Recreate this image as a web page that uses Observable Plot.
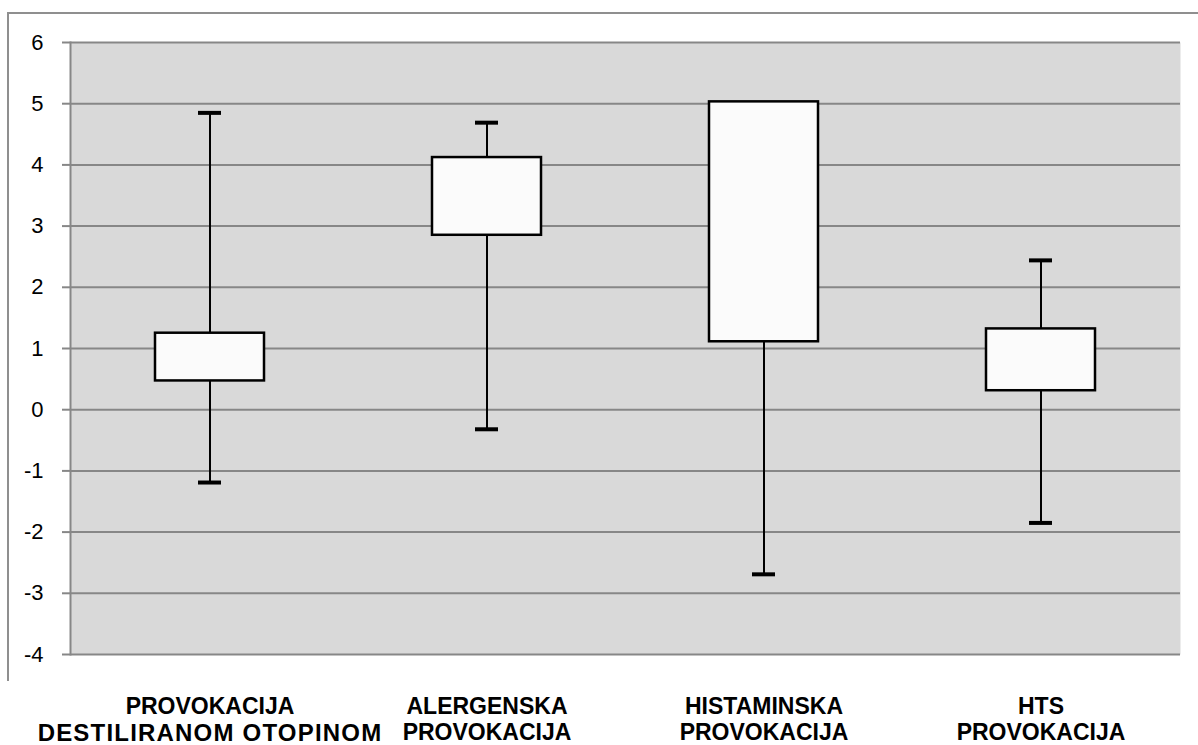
<!DOCTYPE html>
<html>
<head>
<meta charset="utf-8">
<script src="https://cdn.jsdelivr.net/npm/d3@7"></script>
<script src="https://cdn.jsdelivr.net/npm/@observablehq/plot@0.6"></script>
<style>
  html, body { margin: 0; padding: 0; background: #ffffff; }
  #wrap { position: relative; width: 1198px; height: 745px; overflow: hidden; }
  #wrap svg { position: absolute; left: 0; top: 0; }
  .border-top { position: absolute; left: 8px; top: 12px; width: 1190px; height: 2px; background: #8f8f8f; }
  .border-left { position: absolute; left: 7px; top: 12px; width: 2px; height: 669px; background: #8f8f8f; }
</style>
</head>
<body>
<div id="wrap">
  <div class="border-top"></div>
  <div class="border-left"></div>
</div>
<script>
const categories = [
  "PROVOKACIJA\nDESTILIRANOM OTOPINOM",
  "ALERGENSKA\nPROVOKACIJA",
  "HISTAMINSKA\nPROVOKACIJA",
  "HTS\nPROVOKACIJA"
];
const minValues = [-1.19, -0.32, -2.69, -1.85];
const q1Values  = [0.47, 2.85, 1.11, 0.31];
const q3Values  = [1.25, 4.12, 5.03, 1.32];
const maxValues = [4.85, 4.69, 5.03, 2.44];
const yTicks = [-4, -3, -2, -1, 0, 1, 2, 3, 4, 5, 6];

const data = categories.map((c, i) => ({
  cat: c, min: minValues[i], q1: q1Values[i], q3: q3Values[i], max: maxValues[i]
}));
const topCaps = data.filter(d => d.max > d.q3);
const bottomCaps = data.filter(d => d.min < d.q1);

const gridColor = "#878787";

const chart = Plot.plot({
  width: 1198,
  height: 745,
  marginTop: 42,
  marginBottom: 91,
  marginLeft: 70,
  marginRight: 18,
  style: { background: "transparent", overflow: "visible" },
  x: { domain: categories, padding: 0, axis: null },
  y: { domain: [-4, 6], axis: null },
  marks: [
    Plot.frame({ fill: "#d9d9d9", stroke: null }),
    Plot.gridY(yTicks, { stroke: gridColor, strokeOpacity: 1, strokeWidth: 2 }),
    Plot.frame({ anchor: "left", stroke: gridColor, strokeWidth: 2 }),
    Plot.axisY({
      ticks: yTicks,
      tickFormat: d => String(d),
      tickSize: 8,
      tickPadding: 19,
      stroke: gridColor,
      strokeWidth: 2,
      fill: "#000",
      fontSize: 22,
      fontFamily: "Liberation Sans, Arial, sans-serif",
      label: null
    }),
    Plot.ruleX(data, { x: "cat", y1: "min", y2: "max", stroke: "#000", strokeWidth: 2 }),
    Plot.tickY(topCaps, { x: "cat", y: "max", stroke: "#000", strokeWidth: 4, insetLeft: 127, insetRight: 127 }),
    Plot.tickY(bottomCaps, { x: "cat", y: "min", stroke: "#000", strokeWidth: 4, insetLeft: 127, insetRight: 127 }),
    Plot.barY(data, {
      x: "cat", y1: "q1", y2: "q3",
      fill: "#fbfbfb", stroke: "#000", strokeWidth: 2.5,
      insetLeft: 84, insetRight: 84
    }),
    Plot.text(categories, {
      x: d => d,
      frameAnchor: "bottom",
      lineAnchor: "top",
      dy: 41,
      lineHeight: 1.12,
      fontSize: 23,
      fontWeight: "bold",
      fontFamily: "Liberation Sans, Arial, sans-serif",
      fill: "#000",
      textAnchor: "middle"
    })
  ]
});

document.getElementById("wrap").appendChild(chart);

// the long second line of the first label is drawn slightly larger/wider in the reference
d3.select(chart).selectAll("tspan").each(function () {
  if (this.textContent === "DESTILIRANOM OTOPINOM") {
    this.setAttribute("font-size", "24");
    this.setAttribute("letter-spacing", "1.2px");
  }
});
</script>
</body>
</html>
